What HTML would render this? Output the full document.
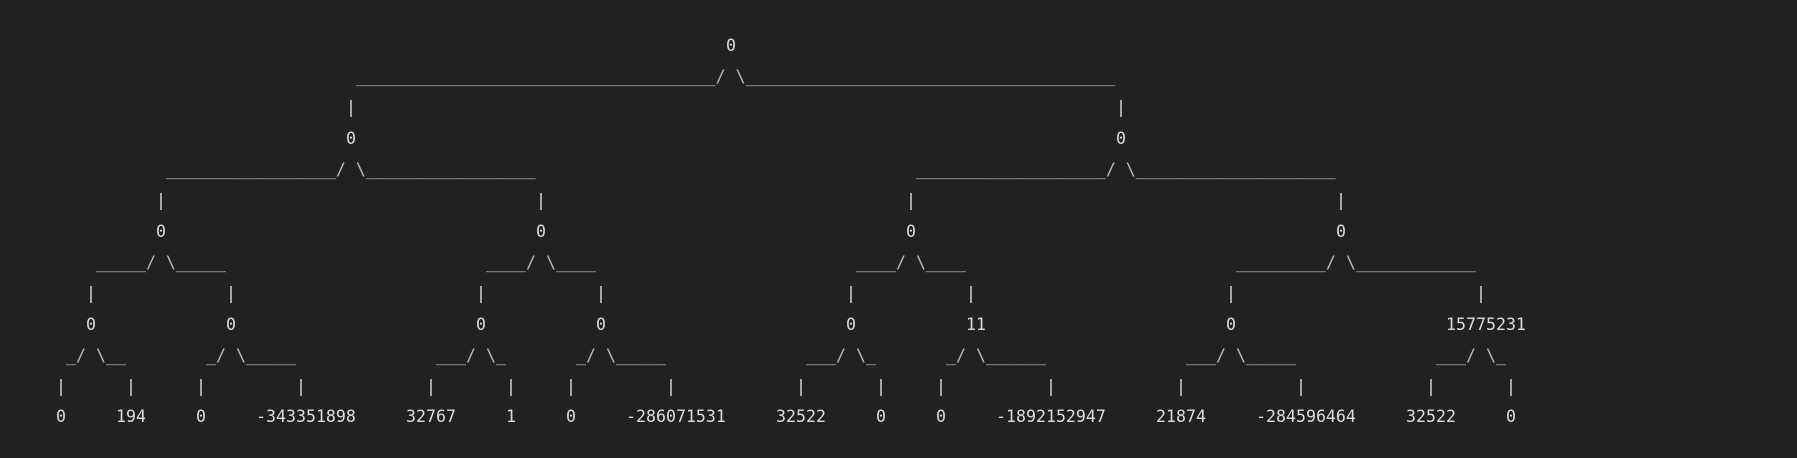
<!DOCTYPE html>
<html><head><meta charset="utf-8"><style>
html,body{margin:0;padding:0;background:#212121;width:1797px;height:458px;overflow:hidden}
.t{position:absolute;font-family:"DejaVu Sans Mono","Liberation Mono",monospace;font-size:16.6px;line-height:31px;color:#dadde0;white-space:pre}
.u{color:#b8bcbf}
</style></head><body>
<div class="t" style="top:30px;left:726px">0</div>

<div class="t u" style="top:61px;left:356px">____________________________________/ \_____________________________________</div>

<div class="t" style="top:92px;left:346px">|</div>
<div class="t" style="top:92px;left:1116px">|</div>
<div class="t" style="top:123px;left:346px">0</div>
<div class="t" style="top:123px;left:1116px">0</div>

<div class="t u" style="top:154px;left:166px">_________________/ \_________________</div>
<div class="t u" style="top:154px;left:916px">___________________/ \____________________</div>

<div class="t" style="top:185px;left:156px">|</div>
<div class="t" style="top:185px;left:536px">|</div>
<div class="t" style="top:185px;left:906px">|</div>
<div class="t" style="top:185px;left:1336px">|</div>
<div class="t" style="top:216px;left:156px">0</div>
<div class="t" style="top:216px;left:536px">0</div>
<div class="t" style="top:216px;left:906px">0</div>
<div class="t" style="top:216px;left:1336px">0</div>

<div class="t u" style="top:247px;left:96px">_____/ \_____</div>
<div class="t u" style="top:247px;left:486px">____/ \____</div>
<div class="t u" style="top:247px;left:856px">____/ \____</div>
<div class="t u" style="top:247px;left:1236px">_________/ \____________</div>

<div class="t" style="top:278px;left:86px">|</div>
<div class="t" style="top:278px;left:226px">|</div>
<div class="t" style="top:278px;left:476px">|</div>
<div class="t" style="top:278px;left:596px">|</div>
<div class="t" style="top:278px;left:846px">|</div>
<div class="t" style="top:278px;left:966px">|</div>
<div class="t" style="top:278px;left:1226px">|</div>
<div class="t" style="top:278px;left:1476px">|</div>

<div class="t" style="top:309px;left:86px">0</div>
<div class="t" style="top:309px;left:226px">0</div>
<div class="t" style="top:309px;left:476px">0</div>
<div class="t" style="top:309px;left:596px">0</div>
<div class="t" style="top:309px;left:846px">0</div>
<div class="t" style="top:309px;left:966px">11</div>
<div class="t" style="top:309px;left:1226px">0</div>
<div class="t" style="top:309px;left:1446px">15775231</div>

<div class="t u" style="top:340px;left:66px">_/ \__</div>
<div class="t u" style="top:340px;left:206px">_/ \_____</div>
<div class="t u" style="top:340px;left:436px">___/ \_</div>
<div class="t u" style="top:340px;left:576px">_/ \_____</div>
<div class="t u" style="top:340px;left:806px">___/ \_</div>
<div class="t u" style="top:340px;left:946px">_/ \______</div>
<div class="t u" style="top:340px;left:1186px">___/ \_____</div>
<div class="t u" style="top:340px;left:1436px">___/ \_</div>

<div class="t" style="top:371px;left:56px">|</div>
<div class="t" style="top:371px;left:126px">|</div>
<div class="t" style="top:371px;left:196px">|</div>
<div class="t" style="top:371px;left:296px">|</div>
<div class="t" style="top:371px;left:426px">|</div>
<div class="t" style="top:371px;left:506px">|</div>
<div class="t" style="top:371px;left:566px">|</div>
<div class="t" style="top:371px;left:666px">|</div>
<div class="t" style="top:371px;left:796px">|</div>
<div class="t" style="top:371px;left:876px">|</div>
<div class="t" style="top:371px;left:936px">|</div>
<div class="t" style="top:371px;left:1046px">|</div>
<div class="t" style="top:371px;left:1176px">|</div>
<div class="t" style="top:371px;left:1296px">|</div>
<div class="t" style="top:371px;left:1426px">|</div>
<div class="t" style="top:371px;left:1506px">|</div>

<div class="t" style="top:401px;left:56px">0</div>
<div class="t" style="top:401px;left:116px">194</div>
<div class="t" style="top:401px;left:196px">0</div>
<div class="t" style="top:401px;left:256px">-343351898</div>
<div class="t" style="top:401px;left:406px">32767</div>
<div class="t" style="top:401px;left:506px">1</div>
<div class="t" style="top:401px;left:566px">0</div>
<div class="t" style="top:401px;left:626px">-286071531</div>
<div class="t" style="top:401px;left:776px">32522</div>
<div class="t" style="top:401px;left:876px">0</div>
<div class="t" style="top:401px;left:936px">0</div>
<div class="t" style="top:401px;left:996px">-1892152947</div>
<div class="t" style="top:401px;left:1156px">21874</div>
<div class="t" style="top:401px;left:1256px">-284596464</div>
<div class="t" style="top:401px;left:1406px">32522</div>
<div class="t" style="top:401px;left:1506px">0</div>
</body></html>
